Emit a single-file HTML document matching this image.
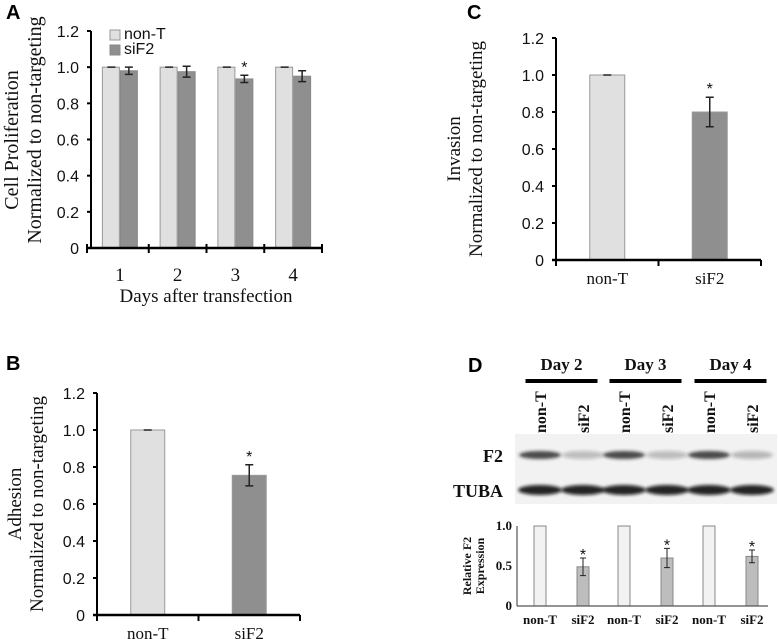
<!DOCTYPE html>
<html><head><meta charset="utf-8"><style>
body{margin:0;background:#fff}
svg{display:block}
.tk{font-family:"Liberation Sans",Arial,sans-serif;font-size:16px;fill:#111}
.sr{font-family:"Liberation Serif","Times New Roman",serif;fill:#111}
.lab{font-family:"Liberation Sans",Arial,sans-serif;font-weight:bold;font-size:20px;fill:#000}
</style></head><body>
<svg id="fig" width="778" height="639" viewBox="0 0 778 639" xmlns="http://www.w3.org/2000/svg">
<defs><filter id="blur" x="-20%" y="-100%" width="140%" height="300%"><feGaussianBlur stdDeviation="1.6"/></filter></defs>
<text class="lab" x="6" y="19">A</text>
<text class="lab" x="6" y="370">B</text>
<text class="lab" x="467" y="19">C</text>
<text class="lab" x="468" y="372">D</text>
<g id="ga"></g>
<g id="gb"></g>
<g id="gc"></g>
<g id="gd"></g>
</svg>
<script>
// Panel A data
const aDays = ["1","2","3","4"];
const aNonT = [1.0, 1.0, 1.0, 1.0];
const aNonTErr = [0, 0, 0, 0];
const aSiF2 = [0.98, 0.975, 0.935, 0.95];
const aSiF2Err = [0.02, 0.03, 0.02, 0.03];
const aSig = [false, false, true, false];
const yTicks = [0, 0.2, 0.4, 0.6, 0.8, 1.0, 1.2];
// Panel B data
const bCats = ["non-T","siF2"];
const bVals = [1.0, 0.755];
const bErr = [0, 0.057];
const bSig = [false, true];
// Panel C data
const cCats = ["non-T","siF2"];
const cVals = [1.0, 0.80];
const cErr = [0, 0.08];
const cSig = [false, true];
// Panel D data
const dCats = ["non-T","siF2","non-T","siF2","non-T","siF2"];
const dVals = [1.0, 0.49, 1.0, 0.60, 1.0, 0.62];
const dErr = [0, 0.11, 0, 0.12, 0, 0.08];
const dSig = [false, true, false, true, false, true];
const dTicks = [0, 0.5, 1.0];
const dDays = ["Day 2","Day 3","Day 4"];

const NS="http://www.w3.org/2000/svg";
function mk(p,tag,at,txt){const e=document.createElementNS(NS,tag);for(const k in at)e.setAttribute(k,at[k]);if(txt!==undefined)e.textContent=txt;p.appendChild(e);return e;}
const LIGHT="#e0e0e0", DARK="#8f8f8f";

function errBar(g,x,y0,y1,cap,sw){
  const e=mk(g,'path',{d:`M${x-cap},${y0}H${x+cap}M${x},${y0}V${y1}M${x-cap},${y1}H${x+cap}`,stroke:'#222','stroke-width':sw,fill:'none'});
  
  
}

// Panel A
(function(){
  const g=document.getElementById('ga');
  const x0=91,x1=322,yb=248,yt=31;
  const y=v=>yb-(v/1.2)*(yb-yt);
  const gw=(x1-x0)/aDays.length;
  yTicks.forEach(t=>{const l=mk(g,'text',{class:'tk',x:x0-12,y:y(t)+6,'text-anchor':'end'},t===0?'0':t.toFixed(1));
    
    mk(g,'line',{x1:x0-4,x2:x0,y1:y(t),y2:y(t),stroke:'#000','stroke-width':2});});
  aDays.forEach((d,i)=>{
    const gx=x0+gw*i, bw=17, c=gx+gw/2;
    const r1=mk(g,'rect',{x:c-bw-0.5,y:y(aNonT[i]),width:bw,height:yb-y(aNonT[i]),fill:LIGHT,stroke:'#999','stroke-width':1});
    
    const r2=mk(g,'rect',{x:c+0.5,y:y(aSiF2[i]),width:bw,height:yb-y(aSiF2[i]),fill:DARK,stroke:'#888','stroke-width':1});
    
    errBar(g,c-bw/2,y(aNonT[i]+aNonTErr[i]),y(aNonT[i]-aNonTErr[i]),4,1.5);
    errBar(g,c+bw/2+0.5,y(aSiF2[i]+aSiF2Err[i]),y(aSiF2[i]-aSiF2Err[i]),4,1.5);
    if(aSig[i]){const s=mk(g,'text',{class:'tk',x:c+bw/2+0.5,y:y(aSiF2[i]+aSiF2Err[i])+12,'text-anchor':'middle','font-size':26},'*');
      s.setAttribute('transform',`translate(0,-15)`);
      }
    const t=mk(g,'text',{class:'sr',x:c,y:281,'text-anchor':'middle','font-size':19},d);
    
    mk(g,'line',{x1:gx+gw,x2:gx+gw,y1:yb-4,y2:yb+5,stroke:'#000','stroke-width':2});
  });
  mk(g,'line',{x1:x0-4,x2:x0-4,y1:yb-4,y2:yb+5,stroke:'#000','stroke-width':2});
  mk(g,'line',{x1:x0,x2:x0,y1:yt,y2:yb,stroke:'#000','stroke-width':2});
  mk(g,'line',{x1:x0-4,x2:x1,y1:yb,y2:yb,stroke:'#000','stroke-width':2.5});
  const xt=mk(g,'text',{class:'sr',x:206,y:302,'text-anchor':'middle','font-size':19},'Days after transfection');
  
  const y1=mk(g,'text',{class:'sr','font-size':20,'text-anchor':'middle',transform:'translate(18,140) rotate(-90)'},'Cell Proliferation');
  
  const y2=mk(g,'text',{class:'sr','font-size':20,'text-anchor':'middle',transform:'translate(41,130) rotate(-90)'},'Normalized to non-targeting');
  
  const l1=mk(g,'rect',{x:110,y:30,width:10,height:10,fill:LIGHT,stroke:'#999'});
  
  const l2=mk(g,'rect',{x:110,y:45,width:10,height:10,fill:DARK,stroke:'#888'});
  
  const t1=mk(g,'text',{class:'tk',x:124,y:39,'font-size':12},'non-T');
  
  const t2=mk(g,'text',{class:'tk',x:124,y:54,'font-size':12},'siF2');
  
})();

// Panels B, C
function twoBar(gid,cats,vals,errs,sig,x0,x1,yb,yt,bars,lab1,lab2,ylx){
  const g=document.getElementById(gid);
  const y=v=>yb-(v/1.2)*(yb-yt);
  yTicks.forEach(t=>{const l=mk(g,'text',{class:'tk',x:x0-12,y:y(t)+6,'text-anchor':'end'},t===0?'0':t.toFixed(1));
    
    mk(g,'line',{x1:x0-4,x2:x0,y1:y(t),y2:y(t),stroke:'#000','stroke-width':2});});
  const gw=(x1-x0)/cats.length;
  cats.forEach((c,i)=>{
    const cx=x0+gw*(i+0.5), bw=bars;
    const r=mk(g,'rect',{x:cx-bw/2,y:y(vals[i]),width:bw,height:yb-y(vals[i]),fill:i===0?LIGHT:DARK,stroke:'#999','stroke-width':1});
    
    errBar(g,cx,y(vals[i]+errs[i]),y(vals[i]-errs[i]),4,1.5);
    if(sig[i]){const s=mk(g,'text',{class:'tk',x:cx,y:y(vals[i]+errs[i])-3,'text-anchor':'middle','font-size':26},'*');
      }
    const t=mk(g,'text',{class:'sr',x:cx,y:yb+24,'text-anchor':'middle','font-size':17},c);
    
    mk(g,'line',{x1:x0+gw*(i+1),x2:x0+gw*(i+1),y1:yb,y2:yb+6,stroke:'#000','stroke-width':2});
  });
  mk(g,'line',{x1:x0,x2:x0,y1:yb,y2:yb+6,stroke:'#000','stroke-width':2});
  mk(g,'line',{x1:x0,x2:x0,y1:yt,y2:yb,stroke:'#000','stroke-width':2});
  mk(g,'line',{x1:x0-4,x2:x1,y1:yb,y2:yb,stroke:'#000','stroke-width':2.5});
  const cy=(yt+yb)/2;
  const a=mk(g,'text',{class:'sr','font-size':19,'text-anchor':'middle',transform:`translate(${ylx},${cy}) rotate(-90)`},lab1);
  
  const b=mk(g,'text',{class:'sr','font-size':19,'text-anchor':'middle',transform:`translate(${ylx+22},${cy}) rotate(-90)`},lab2);
  
}
twoBar('gb',bCats,bVals,bErr,bSig,97,300,615,393,34,'Adhesion','Normalized to non-targeting',21);
twoBar('gc',cCats,cVals,cErr,cSig,556,761,260,38,35,'Invasion','Normalized to non-targeting',460);

// Panel D
(function(){
  const g=document.getElementById('gd');
  const x0=517,x1=768,yb=606,yt=526;
  const y=v=>yb-(v/1.0)*(yb-yt);
  const lx=[540,583,624,667,709,752];
  dDays.forEach((d,i)=>{
    const cx=(lx[2*i]+lx[2*i+1])/2;
    const t=mk(g,'text',{class:'sr','font-weight':'bold','font-size':17,x:cx,y:370,'text-anchor':'middle'},d);
    
    mk(g,'line',{x1:cx-36,x2:cx+36,y1:381,y2:381,stroke:'#000','stroke-width':4});
  });
  const bl=mk(g,'rect',{x:515,y:434,width:262,height:70,fill:'#f2f2f2'});
  
  dCats.forEach((c,i)=>{
    const t=mk(g,'text',{class:'sr','font-weight':'bold','font-size':16,'text-anchor':'start',transform:`translate(${lx[i]+6},433) rotate(-90)`},c);
    
  });
  const f2=[0.8,0.25,0.8,0.25,0.8,0.28];
  lx.forEach((x,i)=>{
    const e=mk(g,'ellipse',{cx:x,cy:455,rx:21,ry:4,fill:'#222','fill-opacity':f2[i],filter:'url(#blur)'});
    
    const t=mk(g,'ellipse',{cx:x,cy:490,rx:22,ry:5,fill:'#111','fill-opacity':0.9,filter:'url(#blur)'});
    
  });
  const l1=mk(g,'text',{class:'sr','font-weight':'bold','font-size':18,x:503,y:462,'text-anchor':'end'},'F2');
  
  const l2=mk(g,'text',{class:'sr','font-weight':'bold','font-size':18,x:503,y:497,'text-anchor':'end'},'TUBA');
  
  dTicks.forEach(t=>{const l=mk(g,'text',{class:'sr','font-weight':'bold','font-size':13,x:x0-5,y:y(t)+4,'text-anchor':'end'},t===0?'0':t.toFixed(1));
    });
  dCats.forEach((c,i)=>{
    const bw=12, cx=lx[i];
    const r=mk(g,'rect',{x:cx-bw/2,y:y(dVals[i]),width:bw,height:yb-y(dVals[i]),fill:i%2?'#bdbdbd':'#f2f2f2',stroke:'#888','stroke-width':1});
    
    if(dErr[i]>0) errBar(g,cx,y(dVals[i]+dErr[i]),y(dVals[i]-dErr[i]),3,1);
    if(dSig[i]){const s=mk(g,'text',{class:'tk','font-size':22,x:cx,y:y(dVals[i]+dErr[i])-2,'text-anchor':'middle'},'*');
      s.setAttribute('transform','translate(0,4)');
      }
    const t=mk(g,'text',{class:'sr','font-weight':'bold','font-size':13,x:cx,y:624,'text-anchor':'middle'},c);
    
  });
  mk(g,'line',{x1:x0,x2:x0,y1:yt,y2:yb,stroke:'#555','stroke-width':1.2});
  mk(g,'line',{x1:x0,x2:x1,y1:yb,y2:yb,stroke:'#555','stroke-width':1.2});
  const a=mk(g,'text',{class:'sr','font-weight':'bold','font-size':12,'text-anchor':'middle',transform:'translate(471,566) rotate(-90)'},'Relative F2');
  
  const b=mk(g,'text',{class:'sr','font-weight':'bold','font-size':12,'text-anchor':'middle',transform:'translate(484,566) rotate(-90)'},'Expression');
  
})();
</script>
</body></html>
